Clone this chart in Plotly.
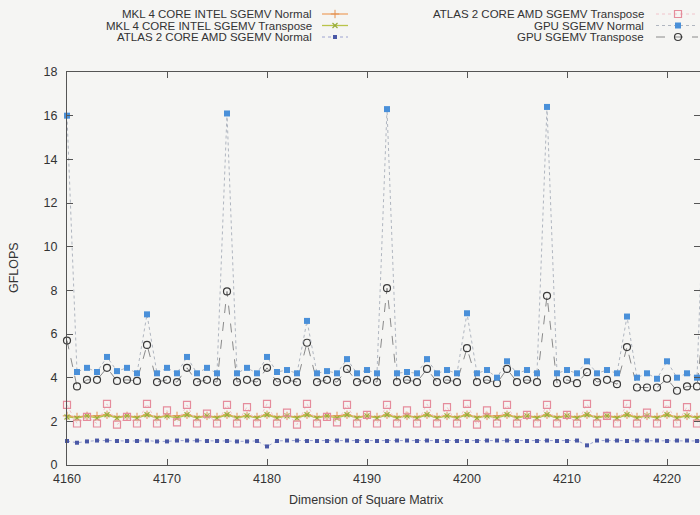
import plotly.graph_objects as go

W, H = 700, 515

dims = list(range(4160, 4225))

gpu_normal = [16.0, 4.26, 4.45, 4.26, 4.95, 4.3, 4.45, 4.2, 6.9, 4.2, 4.45, 4.2, 4.95, 4.2, 4.45, 4.2,
              16.1, 4.2, 4.45, 4.2, 4.95, 4.26, 4.35, 4.2, 6.6, 4.2, 4.3, 4.2, 4.85, 4.2, 4.35, 4.2,
              16.3, 4.2, 4.26, 4.2, 4.85, 4.2, 4.35, 4.2, 6.95, 4.2, 4.35, 4.0, 4.75, 4.2, 4.35, 4.2,
              16.4, 4.2, 4.35, 4.2, 4.75, 4.2, 4.35, 4.2, 6.8, 4.0, 4.2, 3.95, 4.75, 4.0, 4.2, 4.0,
              16.5]
gpu_transpose = [5.7, 3.6, 3.9, 3.9, 4.45, 3.85, 3.9, 3.85, 5.5, 3.8, 3.9, 3.8, 4.45, 3.8, 3.9, 3.8,
                 7.95, 3.8, 3.9, 3.8, 4.45, 3.8, 3.9, 3.8, 5.6, 3.8, 3.9, 3.8, 4.4, 3.8, 3.9, 3.8,
                 8.1, 3.8, 3.9, 3.8, 4.4, 3.8, 3.9, 3.8, 5.35, 3.8, 3.9, 3.75, 4.4, 3.8, 3.9, 3.8,
                 7.75, 3.75, 3.9, 3.75, 4.25, 3.8, 3.9, 3.7, 5.4, 3.55, 3.55, 3.55, 3.95, 3.4, 3.6, 3.6,
                 8.0]
atlas_transpose = [2.75, 1.9, 2.2, 1.9, 2.8, 1.85, 2.2, 1.9, 2.8, 1.9, 2.5, 1.95, 2.75, 1.9, 2.35, 1.9,
                   2.75, 1.9, 2.65, 1.9, 2.8, 1.9, 2.4, 1.85, 2.8, 1.9, 2.2, 1.95, 2.75, 1.9, 2.3, 1.9,
                   2.75, 1.9, 2.5, 1.9, 2.8, 1.9, 2.65, 1.9, 2.8, 1.85, 2.5, 1.9, 2.75, 1.9, 2.3, 1.9,
                   2.75, 1.9, 2.3, 1.9, 2.8, 1.9, 2.25, 1.9, 2.8, 1.9, 2.4, 1.9, 2.8, 1.9, 2.65, 1.9,
                   2.75]
atlas_normal = [1.1, 1.02, 1.08, 1.12, 1.12, 1.1, 1.1, 1.1, 1.12, 1.08, 1.08, 1.12, 1.12, 1.12, 1.1, 1.1,
                1.1, 1.08, 1.08, 1.1, 0.85, 1.1, 1.12, 1.12, 1.1, 1.1, 1.1, 1.12, 1.12, 1.1, 1.1, 1.1,
                1.1, 1.12, 1.12, 1.1, 1.12, 1.1, 1.1, 1.1, 1.1, 1.1, 1.12, 1.12, 1.12, 1.1, 1.1, 1.1,
                1.12, 1.1, 1.1, 1.12, 0.9, 1.12, 1.12, 1.12, 1.1, 1.12, 1.12, 1.12, 1.1, 1.12, 1.12, 1.1,
                1.1]
mkl_normal = [2.25, 2.2, 2.25, 2.25, 2.3, 2.2, 2.25, 2.2, 2.3, 2.2, 2.25, 2.25, 2.3, 2.2, 2.25, 2.2,
              2.3, 2.2, 2.25, 2.2, 2.3, 2.2, 2.25, 2.2, 2.3, 2.2, 2.25, 2.25, 2.3, 2.2, 2.25, 2.2,
              2.3, 2.2, 2.25, 2.2, 2.3, 2.2, 2.25, 2.2, 2.3, 2.2, 2.25, 2.25, 2.3, 2.2, 2.25, 2.2,
              2.3, 2.2, 2.25, 2.2, 2.3, 2.2, 2.25, 2.2, 2.3, 2.2, 2.25, 2.2, 2.3, 2.2, 2.25, 2.2,
              2.3]
mkl_transpose = [2.2, 2.15, 2.25, 2.15, 2.3, 2.15, 2.25, 2.15, 2.3, 2.15, 2.25, 2.15, 2.3, 2.15, 2.25, 2.15,
                 2.3, 2.15, 2.25, 2.15, 2.3, 2.15, 2.25, 2.15, 2.3, 2.15, 2.25, 2.15, 2.3, 2.15, 2.25, 2.15,
                 2.3, 2.15, 2.25, 2.15, 2.3, 2.15, 2.25, 2.15, 2.3, 2.15, 2.25, 2.15, 2.3, 2.15, 2.25, 2.15,
                 2.3, 2.15, 2.25, 2.15, 2.3, 2.15, 2.25, 2.15, 2.3, 2.15, 2.25, 2.15, 2.3, 2.15, 2.25, 2.15,
                 2.3]

x_ticks = [4160, 4170, 4180, 4190, 4200, 4210, 4220]
y_ticks = [0, 2, 4, 6, 8, 10, 12, 14, 16, 18]

labels = ["MKL 4 CORE INTEL SGEMV Normal", "MKL 4 CORE INTEL SGEMV Transpose",
          "ATLAS 2 CORE AMD SGEMV Normal", "ATLAS 2 CORE AMD SGEMV Transpose",
          "GPU SGEMV Normal", "GPU SGEMV Transpose"]

FONT = "Liberation Sans, Arial, sans-serif"
TXT = "#333333"
AX = "#555555"

styles = [
    dict(line=dict(color="#eda56a", width=1.3), marker=dict(symbol="cross-thin", size=6, line=dict(color="#e39050", width=1))),
    dict(line=dict(color="#b9c44a", width=1.3), marker=dict(symbol="x-thin", size=5, line=dict(color="#98ad3a", width=1.2))),
    dict(line=dict(color="#8890c8", width=0.8, dash="dot"), marker=dict(symbol="square", size=4, color="#4a58a6")),
    dict(line=dict(color="#f0b8c0", width=0.8, dash="dot"), marker=dict(symbol="square-open", size=7, color="#e58c9c", line=dict(width=1.2))),
    dict(line=dict(color="#b0b6c0", width=1, dash="dot"), marker=dict(symbol="square", size=6, color="#4a90d9")),
    dict(line=dict(color="#8a8a8a", width=1, dash="dash"), marker=dict(symbol="circle-open", size=7, color="#3a3a3a", line=dict(width=1.2))),
]
series = [mkl_normal, mkl_transpose, atlas_normal, atlas_transpose, gpu_normal, gpu_transpose]

fig = go.Figure()
draw_order = [0, 1, 3, 2, 5, 4]
for i in draw_order:
    fig.add_trace(go.Scatter(x=dims, y=series[i], mode="lines+markers", name=labels[i],
                             line=styles[i]["line"], marker=styles[i]["marker"],
                             cliponaxis=False, showlegend=False, xaxis="x", yaxis="y"))

# manual gnuplot-style legend (text right-aligned, sample to the right)
rows_y = [14, 25.5, 37]
cols = [dict(text_right=314, s0=322, s1=348, m=335), dict(text_right=646, s0=656, s1=698, m=678)]
for k, lab in enumerate(labels):
    c = cols[k // 3]
    ry = rows_y[k % 3]
    fig.add_annotation(x=c["text_right"] / W, y=1 - ry / H, xref="paper", yref="paper",
                       text=lab, showarrow=False, xanchor="right", yanchor="middle",
                       font=dict(family=FONT, size=11.5, color=TXT))
    fig.add_trace(go.Scatter(x=[c["s0"], c["s1"]], y=[ry, ry], mode="lines",
                             line=styles[k]["line"], showlegend=False, xaxis="x2", yaxis="y2",
                             hoverinfo="skip"))
    fig.add_trace(go.Scatter(x=[c["m"]], y=[ry], mode="markers", marker=styles[k]["marker"],
                             showlegend=False, xaxis="x2", yaxis="y2", hoverinfo="skip", cliponaxis=False))

x0, x1 = 67, 700
y_top, y_bot = 72, 465
fig.update_layout(
    width=W, height=H,
    margin=dict(l=0, r=0, t=0, b=0),
    paper_bgcolor="#f5f5f3", plot_bgcolor="rgba(0,0,0,0)",
    font=dict(family=FONT, color=TXT, size=12),
    showlegend=False,
    xaxis=dict(domain=[x0 / W, x1 / W], range=[4160, 4223.3], tickvals=x_ticks,
               ticks="inside", ticklen=6, tickcolor=AX, showline=True, linecolor=AX, linewidth=1,
               mirror="ticks", showgrid=False, zeroline=False, automargin=False,
               tickfont=dict(size=12.5, color=TXT), ticklabelstandoff=2, anchor="y"),
    yaxis=dict(domain=[1 - y_bot / H, 1 - y_top / H], range=[0, 18], tickvals=y_ticks,
               ticks="inside", ticklen=6, tickcolor=AX, showline=True, linecolor=AX, linewidth=1,
               mirror="ticks", showgrid=False, zeroline=False, automargin=False,
               tickfont=dict(size=12.5, color=TXT), ticklabelstandoff=6, anchor="x"),
    xaxis2=dict(domain=[0, 1], range=[0, W], visible=False, anchor="y2", fixedrange=True),
    yaxis2=dict(domain=[0, 1], range=[H, 0], visible=False, anchor="x2", fixedrange=True),
)
fig.add_annotation(x=366 / W, y=1 - 500 / H, xref="paper", yref="paper", text="Dimension of Square Matrix",
                   showarrow=False, xanchor="center", yanchor="middle",
                   font=dict(family=FONT, size=12.5, color=TXT))
fig.add_annotation(x=14 / W, y=1 - 268 / H, xref="paper", yref="paper", text="GFLOPS", textangle=-90,
                   showarrow=False, xanchor="center", yanchor="middle",
                   font=dict(family=FONT, size=12.5, color=TXT))

fig.write_html("out.html")
